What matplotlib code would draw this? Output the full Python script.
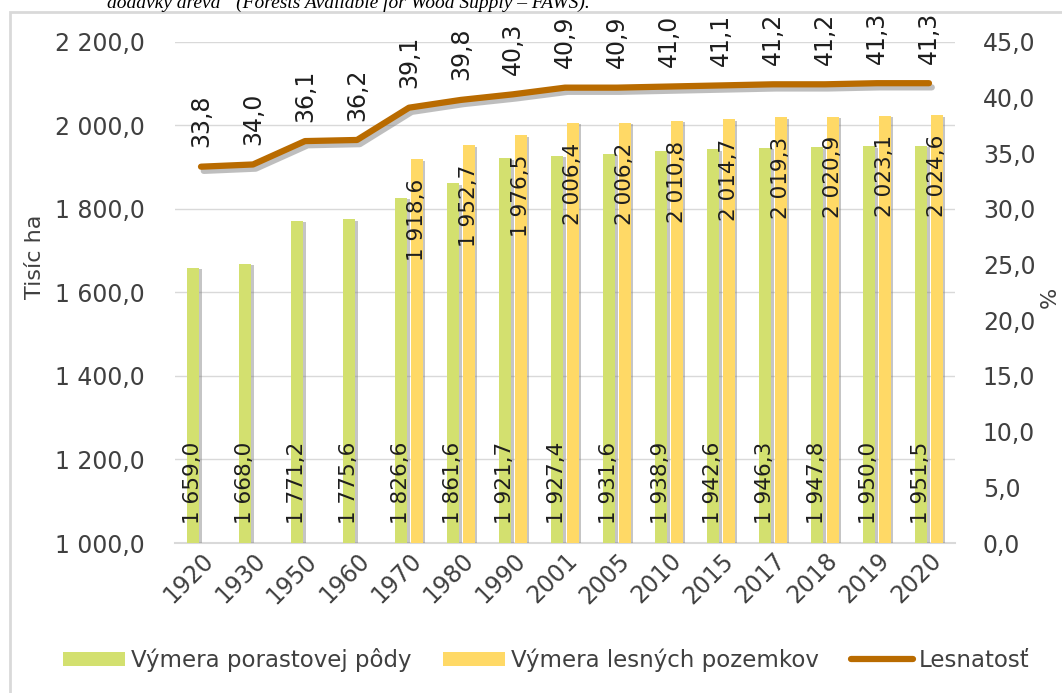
import numpy as np
import matplotlib
matplotlib.use("Agg")
import matplotlib.pyplot as plt
import matplotlib.patheffects as pe
from matplotlib.patches import Rectangle, Patch
from matplotlib.lines import Line2D

years = ['1920', '1930', '1950', '1960', '1970', '1980', '1990', '2001',
         '2005', '2010', '2015', '2017', '2018', '2019', '2020']
porast = [1659.0, 1668.0, 1771.2, 1775.6, 1826.6, 1861.6, 1921.7, 1927.4,
          1931.6, 1938.9, 1942.6, 1946.3, 1947.8, 1950.0, 1951.5]
lesne = [np.nan, np.nan, np.nan, np.nan, 1918.6, 1952.7, 1976.5, 2006.4,
         2006.2, 2010.8, 2014.7, 2019.3, 2020.9, 2023.1, 2024.6]
lesnatost = [33.8, 34.0, 36.1, 36.2, 39.1, 39.8, 40.3, 40.9, 40.9, 41.0,
             41.1, 41.2, 41.2, 41.3, 41.3]
left_ticks = [1000, 1200, 1400, 1600, 1800, 2000, 2200]
right_ticks = [0, 5, 10, 15, 20, 25, 30, 35, 40, 45]

GREEN = '#D3E06F'
YELLOW = '#FFD966'
BROWN = '#B96B00'
TXT = '#404040'
LBL = '#1E1E1E'

plt.rcParams['font.family'] = ['DejaVu Sans']


def fmt(v, dec=1):
    s = f"{v:,.{dec}f}"
    return s.replace(',', ' ').replace('.', ',')


fig = plt.figure(figsize=(10.62, 6.93), dpi=100)
ax = fig.add_axes([175 / 1062, 1 - 543 / 693, (955 - 175) / 1062, (543 - 42) / 693])

x = np.arange(len(years))
w = 0.23
off = 0.145
shadow = [pe.SimplePatchShadow(offset=(2, -1), shadow_rgbFace='#7f7f7f', alpha=0.45), pe.Normal()]

b1 = ax.bar(x - off, np.array(porast) - 1000, bottom=1000, width=w, color=GREEN, zorder=3)
b2 = ax.bar(x + off, np.array(lesne) - 1000, bottom=1000, width=w, color=YELLOW, zorder=3)
for b in list(b1) + list(b2):
    b.set_path_effects(shadow)

ax.set_xlim(-0.5, len(years) - 0.5)
ax.set_ylim(1000, 2200)
ax.set_yticks(left_ticks)
ax.set_yticklabels([fmt(v) for v in left_ticks])
ax.yaxis.grid(True, color='#D9D9D9', lw=1)
ax.set_axisbelow(True)
for s in ['top', 'right', 'left']:
    ax.spines[s].set_visible(False)
ax.spines['bottom'].set_color('#D9D9D9')
ax.spines['bottom'].set_linewidth(1.5)
ax.tick_params(axis='both', length=0, colors=TXT, labelsize=17)
ax.tick_params(axis='y', pad=22)
ax.set_xticks(x)
ax.set_xticklabels(years, rotation=45, ha='right', va='top', rotation_mode='anchor')
ax.tick_params(axis='x', pad=4)
ax.set_ylabel('Tisíc ha', fontsize=16, color=TXT)
ax.yaxis.set_label_coords(-130 / 780, 0.571)

for i, v in enumerate(porast):
    ax.annotate(fmt(v), (x[i] - off, 1000), xytext=(0, 14), textcoords='offset points',
                rotation=90, ha='center', va='bottom', fontsize=15.5, color=LBL, zorder=5)
for i, v in enumerate(lesne):
    if np.isnan(v):
        continue
    ax.annotate(fmt(v), (x[i] + off, v), xytext=(0, -14), textcoords='offset points',
                rotation=90, ha='center', va='top', fontsize=15.5, color=LBL, zorder=5)

ax2 = ax.twinx()
ax2.set_ylim(0, 45)
ax2.set_yticks(right_ticks)
ax2.set_yticklabels([fmt(v) for v in right_ticks])
for s in ['top', 'right', 'left', 'bottom']:
    ax2.spines[s].set_visible(False)
ax2.tick_params(axis='y', length=0, colors=TXT, labelsize=17, pad=20)
ax2.plot(x, lesnatost, color=BROWN, lw=4.5, solid_capstyle='round', zorder=4,
         path_effects=[pe.SimpleLineShadow(offset=(2, -3), shadow_color='#7f7f7f', alpha=0.5),
                       pe.Normal()])
for i, v in enumerate(lesnatost):
    ax2.annotate(fmt(v), (x[i], v), xytext=(0, 14), textcoords='offset points',
                 rotation=90, ha='center', va='bottom', fontsize=17, color=LBL,
                 annotation_clip=False)
ax2.set_ylabel('%', fontsize=16, color=TXT, rotation=90)
ax2.yaxis.set_label_coords(1 + 85 / 780, 0.49)

handles = [Patch(facecolor=GREEN, edgecolor='none'),
           Patch(facecolor=YELLOW, edgecolor='none'),
           Line2D([0], [0], color=BROWN, lw=4.5, solid_capstyle='round')]
fig.legend(handles, ['Výmera porastovej pôdy', 'Výmera lesných pozemkov', 'Lesnatosť'],
           loc='center', bbox_to_anchor=(546 / 1062, 1 - 660 / 693), ncol=3, frameon=False,
           fontsize=16.5, handlelength=2.7, handleheight=0.6, handletextpad=0.25,
           columnspacing=1.4, labelcolor=TXT)

fig.add_artist(Rectangle((10 / 1062, -0.1), 1.2, 1.1 - 12 / 693, transform=fig.transFigure,
                         facecolor='none', edgecolor='#D9D9D9', lw=2))

fig.text(590 / 1062, 1 - 8 / 693, 'dodávky dreva“ (Forests Available for Wood Supply – FAWS).',
         ha='right', va='baseline', fontsize=14, style='italic', family='Liberation Serif',
         color='black')

fig.savefig('out.png', dpi=100)
